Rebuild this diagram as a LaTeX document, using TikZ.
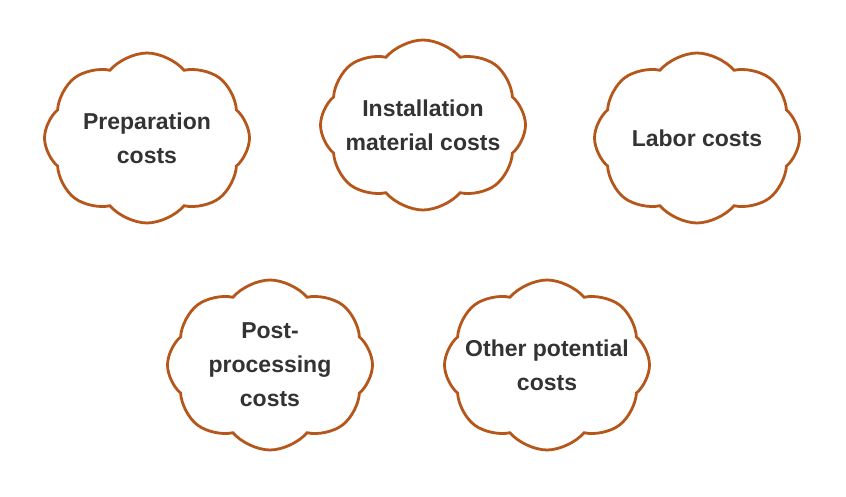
\documentclass[tikz,border=0pt]{standalone}
\usepackage{fontspec}
\setmainfont{Liberation Sans}
\usetikzlibrary{shapes.symbols}
\definecolor{cloudline}{HTML}{B5561B}
\definecolor{cloudtext}{HTML}{333333}

\begin{document}
\begin{tikzpicture}[x=1pt,y=1pt,
    cost/.style={shape=cloud, cloud puffs=8, cloud puff arc=100, aspect=1.2,
      draw=cloudline, line width=2.8pt, fill=white, inner sep=0pt,
      minimum width=205pt, minimum height=170pt},
    costtext/.style={align=center, text=cloudtext, inner sep=0pt,
      font=\fontsize{23}{34}\selectfont\bfseries}]
    \useasboundingbox (0,0) rectangle (846,496);

    \node[cost] (prep) at (147,358) {};
    \node[cost] (inst) at (423,371) {};
    \node[cost] (labor) at (697,358) {};
    \node[cost] (post) at (270,131) {};
    \node[cost] (other) at (547,131) {};

    \node[costtext] at (prep) {Preparation\\costs};
    \node[costtext] at (inst) {Installation\\material costs};
    \node[costtext] at (labor) {Labor costs};
    \node[costtext] at (post) {Post-\\processing\\costs};
    \node[costtext] at (other) {Other potential\\costs};
  \end{tikzpicture}
\end{document}
